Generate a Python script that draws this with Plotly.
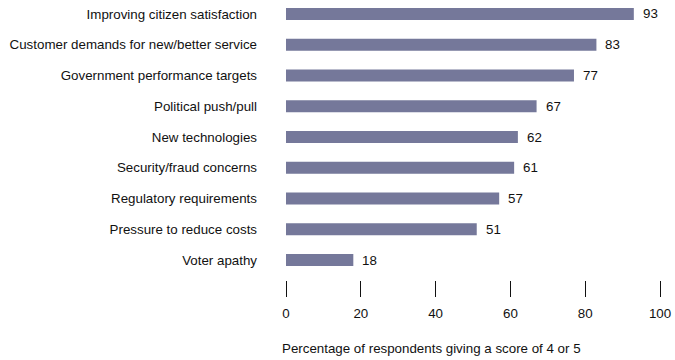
import plotly.graph_objects as go

categories = [
    "Improving citizen satisfaction",
    "Customer demands for new/better service",
    "Government performance targets",
    "Political push/pull",
    "New technologies",
    "Security/fraud concerns",
    "Regulatory requirements",
    "Pressure to reduce costs",
    "Voter apathy",
]
values = [93, 83, 77, 67, 62, 61, 57, 51, 18]
x_ticks = [0, 20, 40, 60, 80, 100]
x_title = "Percentage of respondents giving a score of 4 or 5"

BAR_COLOR = "#75789a"
FONT = "Liberation Sans, Arial, sans-serif"
FS = 13.33

fig = go.Figure(
    go.Bar(
        x=values,
        y=categories,
        orientation="h",
        marker=dict(color=BAR_COLOR, line=dict(width=0)),
        width=0.39,
        hoverinfo="skip",
    )
)

# value labels just past the end of each bar
for cat, val in zip(categories, values):
    fig.add_annotation(
        x=val, y=cat, text=str(val), showarrow=False,
        xanchor="left", xshift=7, font=dict(size=FS, color="#111"),
    )

# axis title, left-aligned under the axis
fig.add_annotation(
    x=0, xref="x", xanchor="left", xshift=-6,
    y=0, yref="paper", yanchor="middle", yshift=-68,
    text=x_title, showarrow=False, font=dict(size=FS, color="#111"),
)

fig.update_layout(
    width=675, height=360,
    margin=dict(l=286, r=15, t=0, b=80),
    paper_bgcolor="white", plot_bgcolor="white",
    font=dict(family=FONT, size=FS, color="#111"),
    showlegend=False,
    xaxis=dict(
        range=[0, 100],
        tickvals=x_ticks,
        ticks="outside", ticklen=16, tickwidth=1, tickcolor="#111",
        showline=False, showgrid=False, zeroline=False,
        ticklabelstandoff=5,
        fixedrange=True,
    ),
    yaxis=dict(
        categoryorder="array", categoryarray=categories,
        range=[8.65, -0.455],
        showline=False, showgrid=False, zeroline=False,
        ticks="", ticklabelstandoff=28,
        fixedrange=True,
    ),
)

fig.write_html("out.html")
